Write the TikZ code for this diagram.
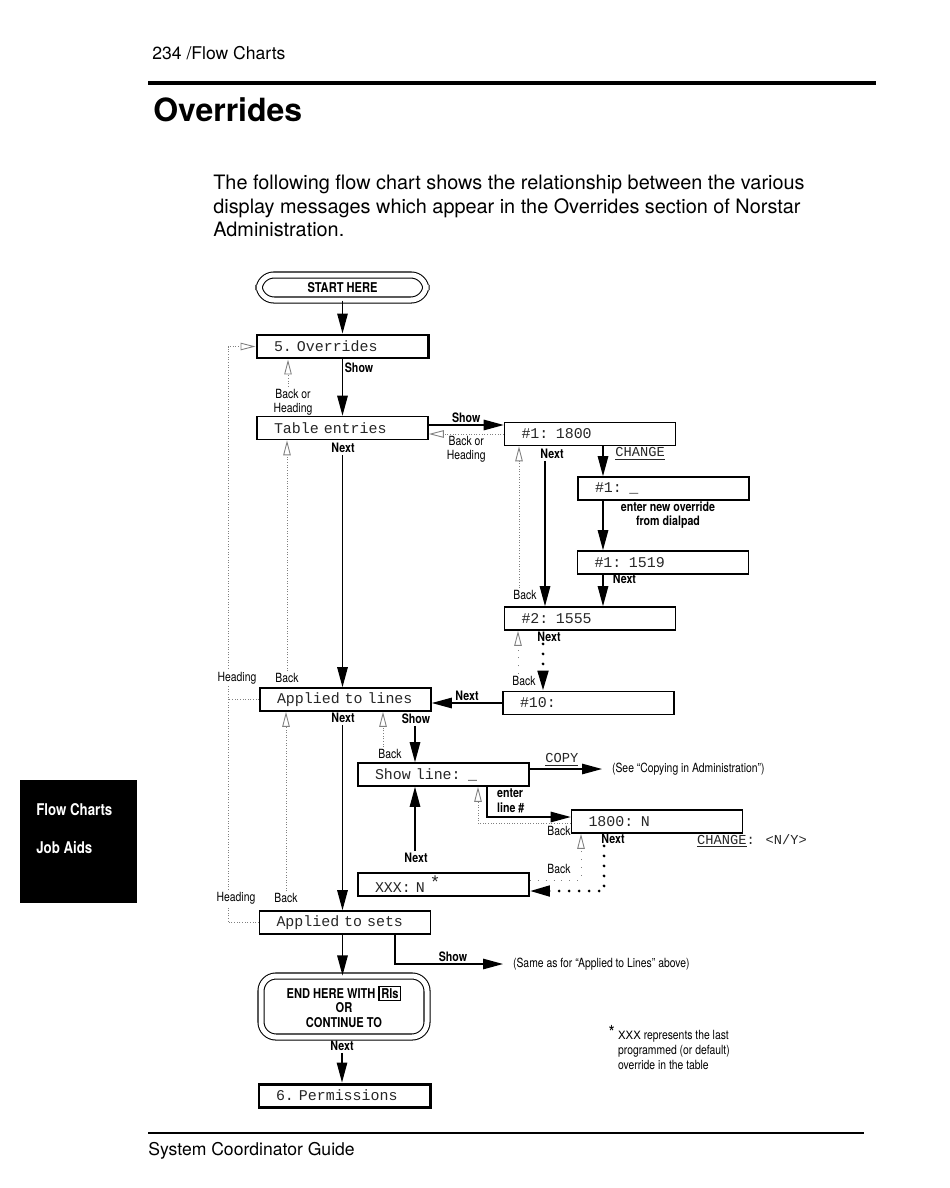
\documentclass[tikz,border=0pt]{standalone}
\usepackage{fontspec}
\setmainfont{TeX Gyre Heros}
\newfontfamily\condfont[FakeStretch=0.82]{TeX Gyre Heros}
\newfontfamily\lcdfont{Liberation Mono}
\usetikzlibrary{arrows.meta}
\setlength\fboxsep{0.8pt}
\setlength\fboxrule{0.8pt}
\tikzset{
  lcd/.style={draw, line width=0.9pt, font=\lcdfont\fontsize{8.5}{10}\selectfont, text=black!85, text width=27.4mm, inner xsep=3.4mm, inner ysep=0pt, minimum height=4.6mm, align=left},
  lcdthick/.style={lcd, line width=1.7pt},
  lcdtxt/.style={font=\lcdfont\fontsize{7.8}{9}\selectfont, text=black!85, inner sep=1pt},
  lbl/.style={font=\condfont\fontsize{7.2}{8.2}\selectfont, text=black, inner sep=1pt},
  blbl/.style={lbl, font=\condfont\bfseries\fontsize{7.4}{8.4}\selectfont},
  roundbox/.style={draw, double, double distance=1mm, line width=0.6pt, rounded corners=3mm, font=\condfont\bfseries\fontsize{7.7}{8}\selectfont, align=center},
  fwd/.style={line width=0.7pt, -{Triangle[length=4mm,width=2.1mm]}},
  back/.style={gray, line width=0.5pt, densely dotted, -{Triangle[open,length=3mm,width=1.5mm]}},
  bigdots/.style={line width=1.8pt, line cap=round, dash pattern=on 0pt off 2mm},
}
\begin{document}
\begin{tikzpicture}[x=0.2mm,y=-0.2mm]
\useasboundingbox (0,0) rectangle (950,1188);

\node[anchor=west, inner sep=0, font=\fontsize{10}{12}\selectfont] (pagehead) at (152,53) {234 /Flow Charts};
\draw[line width=2.2pt] (148,83) -- (876,83);
\node[anchor=west, inner sep=0, font=\bfseries\fontsize{18.2}{22}\selectfont] (title) at (153,110) {Overrides};
\node[anchor=north west, inner sep=0, align=left, font=\fontsize{11.3}{13.4}\selectfont] (intro) at (213,175)
  {The following flow chart shows the relationship between the various\\display messages which appear in the Overrides section of Norstar\\Administration.};
\draw[line width=1.2pt] (148,1133) -- (864,1133);
\node[anchor=west, inner sep=0, font=\fontsize{10}{12}\selectfont] (pagefoot) at (148,1151) {System Coordinator Guide};
\fill (20,780) rectangle (137,903);
\node[anchor=west, inner sep=0, text=white, font=\condfont\bfseries\fontsize{9.2}{11}\selectfont] (tab1) at (36,810) {Flow Charts};
\node[anchor=west, inner sep=0, text=white, font=\condfont\bfseries\fontsize{9.2}{11}\selectfont] (tab2) at (36,848) {Job Aids};

\node[roundbox, minimum width=33.4mm, minimum height=5mm] (start) at (342.5,287.5) {START HERE};
\node[lcdthick] (ovr) at (342.5,346.5) {5.\ Overrides};
\node[lcd] (tbl) at (342.5,428) {Table entries};
\node[lcd] (one) at (590,434) {\#1: 1800};
\node[lcd] (oneblank) at (663.5,488.5) {\#1: \_};
\node[lcd] (onenew) at (663,562.5) {\#1: 1519};
\node[lcd] (two) at (590,618.5) {\#2: 1555};
\node[lcd] (ten) at (588.5,703) {\#10:};
\node[lcd] (lines) at (345.5,699.5) {Applied to lines};
\node[lcd] (showln) at (443.5,774.5) {Show line: \_};
\node[lcd] (num) at (657,821.5) {1800: N};
\node[lcd] (xxx) at (443.5,884.5) {XXX: N \raisebox{0.5ex}{\fontsize{10}{10}\selectfont *}};
\node[lcd] (sets) at (345,922.5) {Applied to sets};
\node[roundbox, minimum width=33.2mm, minimum height=12.2mm, font=\condfont\bfseries\fontsize{7.7}{8.2}\selectfont] (endhere) at (344,1006.5) {END HERE WITH \fbox{Rls}\\OR\\CONTINUE TO};
\node[lcdthick] (perm) at (344.5,1095.5) {6.\ Permissions};

\draw[fwd] (start) -- (ovr);
\draw[fwd] (ovr) -- (tbl) node[blbl, pos=0.14, right] {Show};
\node[lbl, align=center] (bh1) at (293,402) {Back or\\Heading};
\draw[back] (288,0 |- bh1.north) -- (288,0 |- ovr.south);

\draw[fwd] ([yshift=0.6mm]tbl.east) -- ([yshift=0.6mm]tbl.east -| one.west) node[blbl, midway, above] {Show};
\draw[back] (one.west) -- (one.west -| tbl.east) node[lbl, midway, below, align=center] {Back or\\Heading};

\node[blbl] (tnext) at (343,448) {Next};
\draw[fwd] (342.5,0 |- tnext.south) -- (342.5,0 |- lines.north);
\node[lbl] (bk1) at (287,678) {Back};
\draw[back] (287,0 |- bk1.north) -- (287,0 |- tbl.south);

\draw[back] (sets.west) -| (228,0 |- ovr.west) -- (ovr.west);
\draw[gray, line width=0.5pt, densely dotted] (lines.west) -- (228,0 |- lines.west);
\node[lbl, fill=white] (hd1) at (237,678) {Heading};
\node[lbl, fill=white] (hd2) at (236,898) {Heading};

\node[blbl] (lnext) at (343,718) {Next};
\draw[fwd] (342.5,0 |- lnext.south) -- (342.5,0 |- sets.north);
\node[lbl] (bk2) at (286,898) {Back};
\draw[back] (286,0 |- bk2.north) -- (286,0 |- lines.south);

\node[blbl] (onext) at (552,454) {Next};
\draw[fwd] (545,0 |- onext.south) -- (545,0 |- two.north);
\draw[fwd] (603,0 |- one.south) -- (603,0 |- oneblank.north) node[lcdtxt, pos=0.26, right=2mm] {\underline{CHANGE}};
\draw[fwd] (603,0 |- oneblank.south) -- (603,0 |- onenew.north);
\node[blbl, align=center] (dial) at (668,515) {enter new override\\from dialpad};
\draw[fwd] (603,0 |- onenew.south) -- (603,0 |- two.north) node[blbl, pos=0.13, right=1.5mm] {Next};
\node[lbl] (bk3) at (525,595) {Back};
\draw[back] (519,0 |- bk3.north) -- (519,0 |- one.south);

\node[blbl] (tnext2) at (549,637) {Next};
\draw[fwd, bigdots] (543,0 |- tnext2.south) -- (543,0 |- ten.north);
\node[lbl] (bk4) at (524,681) {Back};
\draw[back, loosely dotted] (518,0 |- bk4.north) -- (518,0 |- two.south);
\draw[fwd] (ten.west) -- (ten.west -| lines.east) node[blbl, midway, above] {Next};

\node[blbl] (lshow) at (416,719) {Show};
\draw[fwd] (415,0 |- lshow.south) -- (415,0 |- showln.north);
\node[lbl] (bk5) at (390,754) {Back};
\draw[back] (383,0 |- bk5.north) -- (383,0 |- lines.south);

\node[lbl, anchor=west] (seecopy) at (610,769) {(See “Copying in Administration”)};
\draw[fwd, shorten >=1.6mm] (showln.east |- seecopy.west) -- (seecopy.west) node[lcdtxt, pos=0.4, above] {\underline{COPY}};

\draw[fwd] (487,0 |- showln.south) |- ([yshift=0.9mm]num.west);
\node[blbl, anchor=north west, align=left] (entl) at (495,787) {enter\\line \#};
\draw[back] ([yshift=-0.4mm]num.west) -| (478,0 |- showln.south);
\node[lbl] (bk6) at (559,831) {Back};
\node[lcdtxt] (chg2) at (752,841) {\underline{CHANGE}: <N/Y>};

\node[blbl] (nnext) at (613,839) {Next};
\draw[fwd, bigdots] (604,0 |- nnext.south) |- ([yshift=-1.3mm]xxx.east);
\draw[back, loosely dotted] ([yshift=0.9mm]xxx.east) -| (581,0 |- num.south);
\node[lbl] (bk7) at (559,869) {Back};
\node[blbl] (xnext) at (416,858) {Next};
\draw[fwd] (415,0 |- xnext.north) -- (415,0 |- showln.south);

\node[lbl, anchor=west] (sameas) at (511,964) {(Same as for “Applied to Lines” above)};
\draw[fwd, shorten >=1.6mm] (395,0 |- sets.south) |- (sameas.west) node[blbl, pos=0.75, above] {Show};
\draw[fwd] (342.5,0 |- sets.south) -- (342.5,0 |- endhere.north);
\node[blbl] (enext) at (342,1046) {Next};
\draw[fwd] (342,0 |- enext.south) -- (342,0 |- perm.north);

\node[lbl, anchor=north west, align=left, font=\condfont\fontsize{7.2}{8.6}\selectfont] (xxxnote) at (616,1023)
  {\llap{\fontsize{11}{11}\selectfont *\,}{\lcdfont XXX} represents the last\\programmed (or default)\\override in the table};
\end{tikzpicture}
\end{document}
